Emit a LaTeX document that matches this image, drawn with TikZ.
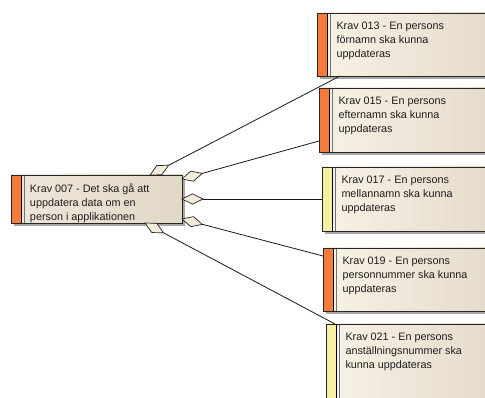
\documentclass[tikz,border=0pt]{standalone}
\usepackage{fontspec}
\setmainfont{Liberation Sans}
\usetikzlibrary{calc,shadows}

\definecolor{barOrange}{HTML}{F47C3A}
\definecolor{barYellow}{HTML}{F5F1A4}
\definecolor{paperL}{HTML}{F8F2E6}
\definecolor{paperR}{HTML}{E5DBCB}
\definecolor{srcL}{HTML}{EEE6D9}
\definecolor{srcR}{HTML}{E2D8C7}
\definecolor{diamondFill}{HTML}{F4ECDA}
\definecolor{shadowGray}{HTML}{A8A8A8}
\definecolor{inkGray}{HTML}{1E1E1E}

% requirement element with coloured bar on its left side
\tikzset{
  barcolor/.store in=\reqbarcolor,
  barcolor=barOrange,
  reqbox/.style={draw=black!85, line width=0.9pt, anchor=north west,
    inner sep=0pt, outer sep=0pt, left color=paperL, right color=paperR,
    drop shadow={shadow xshift=3pt, shadow yshift=-3pt, fill=shadowGray, opacity=1},
    path picture={
      \fill[\reqbarcolor] (path picture bounding box.north west)
        rectangle ([xshift=10pt]path picture bounding box.south west);
      \draw[black, line width=1.4pt]
        ([xshift=10.7pt]path picture bounding box.north west) --
        ([xshift=10.7pt]path picture bounding box.south west);
      \draw[black!55, line width=0.5pt]
        ([xshift=12.9pt]path picture bounding box.north west) --
        ([xshift=12.9pt]path picture bounding box.south west);
    }},
  reqtext/.style={anchor=north west, inner sep=0pt, outer sep=0pt, align=left,
    text=inkGray, font=\fontsize{10.8}{14.3}\selectfont},
  aggrline/.style={draw=black!90, line width=0.8pt},
  aggrhead/.style={draw=black!85, line width=0.7pt, fill=diamondFill, line join=miter}
}

% aggregation: diamond at the whole end (#1), line to the part end (#2)
\newcommand\aggregation[2]{%
  \coordinate (dTip) at ($(#1)!21pt!(#2)$);
  \coordinate (dMid) at ($(#1)!10.5pt!(#2)$);
  \draw[aggrhead] (#1) -- ($(dMid)!5.2pt!90:(#2)$) -- (dTip)
    -- ($(dMid)!5.2pt!-90:(#2)$) -- cycle;
  \draw[aggrline] (dTip) -- (#2);
}

\begin{document}
\begin{tikzpicture}[x=1pt,y=-1pt]
\useasboundingbox (0,0) rectangle (485,398);
\clip (0,0) rectangle (485,398);

% whole: the general requirement
\node[reqbox, left color=srcL, right color=srcR, minimum width=171pt,
  minimum height=48pt] (r007) at (11,175) {};
\node[reqtext] (t007) at ($(r007.north west)+(19,8.5)$)
  {Krav 007 - Det ska gå att\\uppdatera data om en\\person i applikationen};

% parts: the detailed requirements
\node[reqbox, minimum width=173pt, minimum height=63pt] (r013) at (317,13) {};
\node[reqtext] (t013) at ($(r013.north west)+(19.5,8.5)$)
  {Krav 013 - En persons\\förnamn ska kunna\\uppdateras};

\node[reqbox, minimum width=171pt, minimum height=64pt] (r015) at (319,88) {};
\node[reqtext] (t015) at ($(r015.north west)+(19.5,8.5)$)
  {Krav 015 - En persons\\efternamn ska kunna\\uppdateras};

\node[reqbox, barcolor=barYellow, minimum width=168pt, minimum height=64pt] (r017) at (322,167) {};
\node[reqtext] (t017) at ($(r017.north west)+(19.5,8.5)$)
  {Krav 017 - En persons\\mellannamn ska kunna\\uppdateras};

\node[reqbox, minimum width=167pt, minimum height=63pt] (r019) at (323,248) {};
\node[reqtext] (t019) at ($(r019.north west)+(19.5,8.5)$)
  {Krav 019 - En persons\\personnummer ska kunna\\uppdateras};

\node[reqbox, barcolor=barYellow, minimum width=164pt, minimum height=80pt] (r021) at (326,324) {};
\node[reqtext] (t021) at ($(r021.north west)+(19.5,8.5)$)
  {Krav 021 - En persons\\anställningsnummer ska\\kunna uppdateras};

% connector end points
\coordinate (w1) at ($(r007.north west)+(139,0)$);
\coordinate (p1) at ($(r013.south west)+(23,0)$);
\coordinate (w2) at ($(r007.north east)+(0,4)$);
\coordinate (p2) at ($(r015.south west)+(0,-11)$);
\coordinate (w3) at (r007.east);
\coordinate (p3) at (w3 -| r017.west);
\coordinate (w4) at ($(r007.south east)+(0,-4)$);
\coordinate (p4) at ($(r019.north west)+(0,8)$);
\coordinate (w5) at ($(r007.south west)+(134,0)$);
\coordinate (p5) at ($(r021.north west)+(9,0)$);

\aggregation{w1}{p1}
\aggregation{w2}{p2}
\aggregation{w3}{p3}
\aggregation{w4}{p4}
\aggregation{w5}{p5}
\end{tikzpicture}
\end{document}
